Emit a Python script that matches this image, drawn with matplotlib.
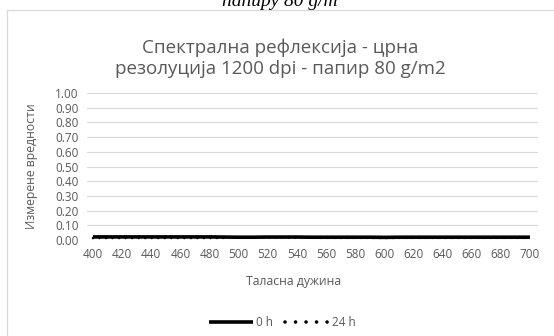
import numpy as np
import matplotlib.pyplot as plt
from matplotlib.patches import Rectangle
from matplotlib.lines import Line2D

# wavelengths (nm) and measured reflectance
wavelength = list(range(400, 701, 10))
refl_0h = [0.021, 0.021, 0.021, 0.021, 0.021, 0.021, 0.021, 0.021, 0.021, 0.020,
           0.019, 0.019, 0.020, 0.020, 0.020, 0.019, 0.019, 0.019, 0.019, 0.019,
           0.018, 0.019, 0.019, 0.019, 0.019, 0.019, 0.019, 0.019, 0.019, 0.019, 0.019]
refl_24h = [0.013, 0.013, 0.013, 0.013, 0.013, 0.013, 0.013, 0.013, 0.013, 0.014,
            0.016, 0.017, 0.018, 0.017, 0.016, 0.015, 0.014, 0.014, 0.014, 0.014,
            0.013, 0.014, 0.014, 0.014, 0.014, 0.014, 0.014, 0.014, 0.014, 0.014, 0.014]
yticks = np.arange(0, 1.01, 0.1)

grey = '#595959'
plt.rcParams['font.family'] = ['Open Sans', 'DejaVu Sans']

W, H = 554, 336
fig = plt.figure(figsize=(W / 100, H / 100), dpi=100)

# chart area border (cut off at right/bottom in the source)
fig.patches.append(Rectangle((7 / W, -0.1), 1.2, 1.1 - 10 / H, transform=fig.transFigure,
                             facecolor='none', edgecolor='#d9d9d9', lw=0.9, zorder=-1))

# leftover caption from the page above the chart
fig.text(280 / W, 1 - 6 / H, 'папиру 80 g/m', family='Liberation Serif', style='italic',
         fontsize=14, ha='center', va='baseline', color='black')

dots = (0, (0.01, 2.6))

ax = fig.add_axes([87 / W, 1 - 240 / H, (538 - 87) / W, (240 - 93) / H])
ax.set_facecolor('none')
ax.plot(wavelength, refl_0h, color='black', lw=2.6, solid_capstyle='butt', label='0 h', zorder=3)
ax.plot(wavelength, refl_24h, color='black', lw=1.8, linestyle=dots,
        dash_capstyle='round', label='24 h', zorder=4)

ax.set_xlim(395.9, 705.5)
ax.set_ylim(0, 1)
ax.set_xticks(range(400, 701, 20))
ax.set_yticks(yticks)
ax.set_yticklabels(['%.2f' % v for v in yticks])
ax.grid(axis='y', color='#d9d9d9', lw=0.8)
ax.set_axisbelow(True)
for s in ax.spines.values():
    s.set_visible(False)
ax.tick_params(length=0, labelsize=8.5, colors=grey, pad=6)

fig.text(280 / W, 1 - 48 / H, 'Спектрална рефлексија - црна', ha='center', va='center',
         fontsize=13.5, color=grey)
fig.text(280 / W, 1 - 69 / H, 'резолуција 1200 dpi - папир 80 g/m2', ha='center', va='center',
         fontsize=13.5, color=grey)
fig.text(32 / W, 1 - 166 / H, 'Измерене вредности', rotation=90, ha='center', va='center',
         fontsize=8.8, color=grey)
fig.text(294 / W, 1 - 282 / H, 'Таласна дужина', ha='center', va='center',
         fontsize=8.8, color=grey)

handles = [Line2D([], [], color='black', lw=2.6, solid_capstyle='butt'),
           Line2D([], [], color='black', lw=2.6, linestyle=(0, (0.01, 2.9)), dash_capstyle='round')]
leg = fig.legend(handles, ['0 h', '24 h'], loc='center', bbox_to_anchor=(282 / W, 1 - 323 / H),
                 ncol=2, frameon=False, fontsize=8.5, handlelength=3.8, handletextpad=0.2,
                 columnspacing=1.0, labelcolor=grey)

fig.savefig('out.png', dpi=100)
